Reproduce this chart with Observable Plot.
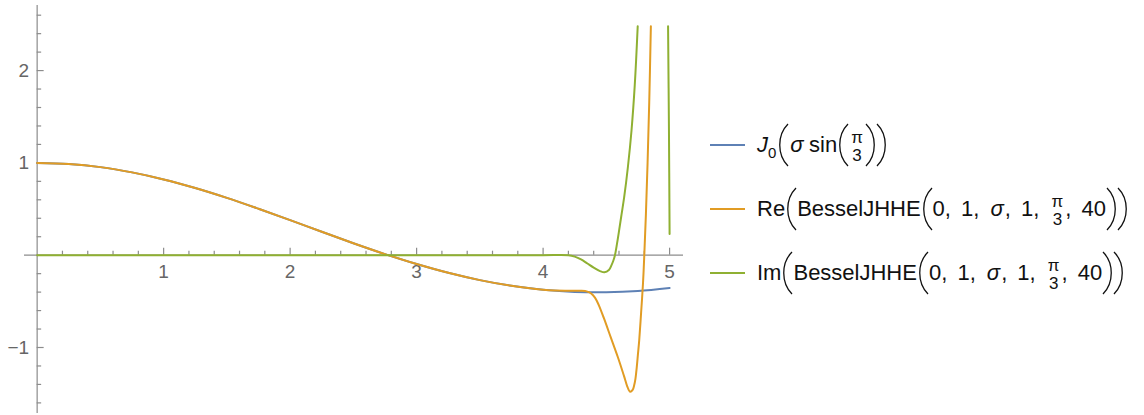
<!DOCTYPE html>
<html><head><meta charset="utf-8">
<script src="https://cdn.jsdelivr.net/npm/d3@7"></script>
<script src="https://cdn.jsdelivr.net/npm/@observablehq/plot@0.6"></script>
<style>
html,body{margin:0;padding:0;background:#fff;overflow:hidden;}
#wrap{position:relative;width:1144px;height:415px;}
#chart{position:absolute;left:0;top:0;}
#legend{position:absolute;left:710px;top:113px;font-family:"Liberation Sans",Arial,sans-serif;font-size:22px;color:#111;}
.row{height:64px;display:flex;align-items:center;}
.sw{width:35px;height:0;border-top:2px solid;margin-right:12px;}
.lab{display:inline-flex;align-items:center;white-space:pre;word-spacing:4px;}
.frac{display:inline-flex;flex-direction:column;align-items:center;font-size:17px;line-height:18px;margin:4px 2px 0 2px;}
.bp{display:block;flex:none;}
.sub{font-size:15px;position:relative;top:7px;margin-right:1px;}
.sig{margin:0 1px;}
</style></head><body>
<div id="wrap"><div id="chart"></div><div id="legend"></div></div>
<script>
// ---- data ----
const seriesKeys = ["J", "Re", "Im"];
const seriesColors = ["#5E81B5", "#E19C24", "#8FB032"];

const sigmaJ = [0,0.25,0.5,0.75,1,1.25,1.5,1.75,2,2.25,2.5,2.75,3,3.25,3.5,3.75,4,4.25,4.5,4.75,5];
const valuesJ = [1,0.988,0.954,0.897,0.821,0.728,0.621,0.503,0.380,0.254,0.130,0.012,-0.096,-0.191,-0.270,-0.332,-0.374,-0.398,-0.402,-0.388,-0.355];

const sigmaRe = [0,0.25,0.5,0.75,1,1.25,1.5,1.75,2,2.25,2.5,2.75,3,3.25,3.5,3.75,4,4.1,4.2,4.3,4.35,4.38,4.41,4.44,4.48,4.535,4.59,4.64,4.665,4.688,4.708,4.72,4.73,4.74,4.75,4.76,4.775,4.79,4.8,4.813,4.826,4.839,4.852];
const valuesRe = [1,0.988,0.954,0.897,0.821,0.728,0.621,0.503,0.380,0.254,0.130,0.012,-0.096,-0.191,-0.270,-0.332,-0.375,-0.383,-0.385,-0.386,-0.395,-0.415,-0.46,-0.54,-0.68,-0.89,-1.10,-1.31,-1.42,-1.48,-1.46,-1.41,-1.34,-1.22,-1.07,-0.92,-0.62,-0.30,0,0.45,1.0,1.65,2.48];

const sigmaIm = [0,0.5,1,1.5,2,2.5,3,3.5,4,4.2,4.25,4.3,4.35,4.4,4.45,4.485,4.52,4.54,4.555,4.568,4.585,4.601,4.62,4.641,4.67,4.699,4.725,4.748,4.87,4.988,4.995,5];
const valuesIm = [0,0,0,0,0,0,0,0,0,0,-0.015,-0.045,-0.09,-0.135,-0.172,-0.185,-0.16,-0.11,-0.06,0,0.13,0.268,0.44,0.628,0.95,1.351,1.85,2.48,null,2.48,1.35,0.23];

const xMajor = [1,2,3,4,5];
const xMinor = [0.2,0.4,0.6,0.8,1.2,1.4,1.6,1.8,2.2,2.4,2.6,2.8,3.2,3.4,3.6,3.8,4.2,4.4,4.6,4.8];
const yMajor = [-1,1,2];
const yMinor = [-1.6,-1.4,-1.2,-0.8,-0.6,-0.4,-0.2,0.2,0.4,0.6,0.8,1.2,1.4,1.6,1.8,2.2,2.4,2.6];
const xDomain = [-0.1, 5.11];
const yDomain = [-1.715, 2.705];

// ---- build table ----
const rows = [];
sigmaJ.forEach((s,i)=>rows.push({series:"J", sigma:s, v:valuesJ[i]}));
sigmaRe.forEach((s,i)=>rows.push({series:"Re", sigma:s, v:valuesRe[i]}));
sigmaIm.forEach((s,i)=>rows.push({series:"Im", sigma:s, v:valuesIm[i]}));

const axisColor = "#8c8c8c";
const labelColor = "#666";

const chart = Plot.plot({
  width: 690, height: 415,
  marginLeft: 24, marginRight: 7, marginTop: 5, marginBottom: 2,
  style: {fontFamily: "'Liberation Sans', Arial, sans-serif", background: "white"},
  x: {domain: xDomain, axis: null},
  y: {domain: yDomain, axis: null},
  color: {domain: seriesKeys, range: seriesColors},
  marks: [
    Plot.ruleY([0], {stroke: axisColor, strokeWidth: 1.2}),
    Plot.ruleX([0], {stroke: axisColor, strokeWidth: 1.2}),
    Plot.ruleX(xMajor, {x: d=>d, y1: 0, y2: 0, insetTop: -7, stroke: axisColor, strokeWidth: 1.2}),
    Plot.ruleX(xMinor, {x: d=>d, y1: 0, y2: 0, insetTop: -4, stroke: axisColor, strokeWidth: 1.2}),
    Plot.ruleY(yMajor, {y: d=>d, x1: 0, x2: 0, insetRight: -7, stroke: axisColor, strokeWidth: 1.2}),
    Plot.ruleY(yMinor, {y: d=>d, x1: 0, x2: 0, insetRight: -4.5, stroke: axisColor, strokeWidth: 1.2}),
    Plot.text(xMajor, {x: d=>d, y: 0, dy: 17, text: d=>String(d), fill: labelColor, fontSize: 19}),
    Plot.text(yMajor, {x: 0, y: d=>d, dx: -8, textAnchor: "end", text: d=>d<0 ? "\u2212"+Math.abs(d) : String(d), fill: labelColor, fontSize: 19}),
    Plot.line(rows, {x: "sigma", y: "v", z: "series", stroke: "series", strokeWidth: 2, curve: "catmull-rom"})
  ]
});
document.getElementById("chart").appendChild(chart);

// ---- legend ----
const fr = '<span class="frac"><span>\u03c0</span><span>3</span></span>';
const L = '<svg class="bp" width="12" height="44" viewBox="0 0 12 44"><path d="M11,1 C0,12 0,32 11,43" fill="none" stroke="#111" stroke-width="1.3"/></svg>';
const R = '<svg class="bp" width="11" height="44" viewBox="0 0 11 44"><path d="M1,1 C12,12 12,32 1,43" fill="none" stroke="#111" stroke-width="1.3"/></svg>';
const sig = '<i class="sig">\u03c3</i>';
const legendLabels = [
  '<i>J</i><span class="sub">0</span>' + L + sig + '\u2009sin' + L + fr + R + R,
  'Re' + L + 'BesselJHHE' + L + '0, 1, ' + sig + ', 1, ' + fr + ', 40' + R + R,
  'Im' + L + 'BesselJHHE' + L + '0, 1, ' + sig + ', 1, ' + fr + ', 40' + R + R
];
const leg = document.getElementById("legend");
seriesKeys.forEach((k,i)=>{
  const row = document.createElement("div");
  row.className = "row";
  row.innerHTML = '<span class="sw" style="border-color:'+seriesColors[i]+'"></span><span class="lab">'+legendLabels[i]+'</span>';
  leg.appendChild(row);
});
</script>
</body></html>
